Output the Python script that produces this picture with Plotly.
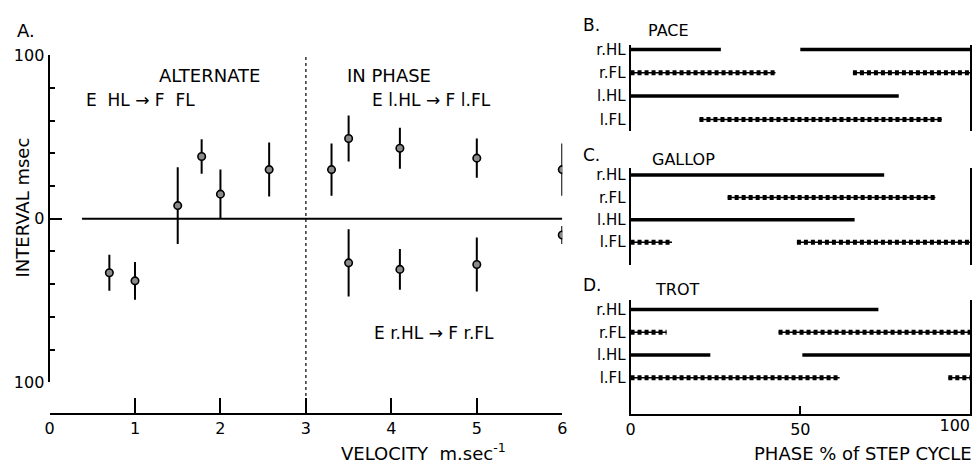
import plotly.graph_objects as go

# ---------------- data: panel A ----------------
vel_alt = [0.70, 1.00, 1.50, 1.78, 2.00, 2.57]
int_alt = [-33, -38, 8, 38, 15, 30]
err_alt = [11, 11.5, 23.5, 10.5, 15, 16.5]

vel_inph = [3.30, 3.50, 4.10, 5.00, 6.00]
int_inph = [30, 49, 43, 37, 30]
err_inph = [16, 14, 12.5, 12, 16]

vel_rev = [3.50, 4.10, 5.00, 6.00]
int_rev = [-27, -31, -28, -10]
err_rev = [20.5, 12.5, 16.5, 5.5]

zero_line_x = [0.38, 6.0]
zero_line_y = [0, 0]
x_ticks = [0, 1, 2, 3, 4, 5, 6]
y_ticks = [-100, 0, 100]
y_ticktext = ["100", "0", "100"]

# ---------------- data: panels B-D (phase % of step cycle) ----------------
limbs = ["r.HL", "r.FL", "l.HL", "l.FL"]
row_pos = [3, 2, 1, 0]

pace_rHL = [(0, 26.6), (50, 100)]
pace_rFL = [(0, 42.7), (65.5, 100)]
pace_lHL = [(0, 79)]
pace_lFL = [(20.3, 91.7)]

gallop_rHL = [(0, 74.7)]
gallop_rFL = [(28.6, 89.8)]
gallop_lHL = [(0, 66)]
gallop_lFL = [(0, 12.2), (49, 100)]

trot_rHL = [(0, 73)]
trot_rFL = [(0, 10.6), (43.6, 100)]
trot_lHL = [(0, 23.5), (50.6, 100)]
trot_lFL = [(0, 61.6), (93.6, 100)]

phase_ticks = [0, 50]
phase_last_tick = [100]

W, H = 980, 471
def PX(x):
    return x / W
def PY(y):
    return 1 - y / H

FONT = "DejaVu Sans"
fig = go.Figure()

# ---------- panel A ----------
fig.add_trace(go.Scatter(x=zero_line_x, y=zero_line_y, mode="lines",
                         line=dict(color="black", width=2), xaxis="x", yaxis="y",
                         showlegend=False, hoverinfo="skip"))

mk = dict(symbol="circle", size=7.5, color="#8a8a8a", line=dict(color="black", width=1.6))
for xs, ys, es in [(vel_alt, int_alt, err_alt), (vel_inph, int_inph, err_inph), (vel_rev, int_rev, err_rev)]:
    fig.add_trace(go.Scatter(x=xs, y=ys, mode="markers", marker=mk,
                             error_y=dict(type="data", array=es, visible=True, thickness=2,
                                          width=0, color="black"),
                             xaxis="x", yaxis="y", showlegend=False))

# ---------- panels B-D ----------
def seg_xy(segs, row):
    xs, ys = [], []
    for a, b in segs:
        xs += [a, b, None]
        ys += [row, row, None]
    return xs, ys

def add_limb(segs, row, kind, ax):
    xs, ys = seg_xy(segs, row)
    if kind == "HL":
        fig.add_trace(go.Scatter(x=xs, y=ys, mode="lines", line=dict(color="black", width=3.5),
                                 xaxis="x" + ax, yaxis="y" + ax, showlegend=False, hoverinfo="skip"))
    else:
        fig.add_trace(go.Scatter(x=xs, y=ys, mode="lines", line=dict(color="black", width=1.5),
                                 xaxis="x" + ax, yaxis="y" + ax, showlegend=False, hoverinfo="skip"))
        fig.add_trace(go.Scatter(x=xs, y=ys, mode="lines",
                                 line=dict(color="black", width=5, dash="4px,3px"),
                                 xaxis="x" + ax, yaxis="y" + ax, showlegend=False, hoverinfo="skip"))

gaits = [
    ("2", [pace_rHL, pace_rFL, pace_lHL, pace_lFL]),
    ("3", [gallop_rHL, gallop_rFL, gallop_lHL, gallop_lFL]),
    ("4", [trot_rHL, trot_rFL, trot_lHL, trot_lFL]),
]
for ax, segsets in gaits:
    for limb, row, segs in zip(limbs, row_pos, segsets):
        add_limb(segs, row, "HL" if limb.endswith("HL") else "FL", ax)

# ---------- layout ----------
tickfont = dict(family=FONT, size=16, color="black")
rowfont = dict(family=FONT, size=15, color="black")

layout = dict(
    width=W, height=H, margin=dict(l=0, r=0, t=0, b=0),
    paper_bgcolor="white", plot_bgcolor="white", showlegend=False,
    font=dict(family=FONT, color="black"),
    xaxis=dict(domain=[PX(45), PX(563)], range=[0, 6], anchor="free", position=PY(422),
               tickvals=x_ticks, ticks="inside", ticklen=15, tickwidth=2, tickcolor="black",
               showline=True, linecolor="black", linewidth=2, showgrid=False, zeroline=False,
               tickfont=tickfont),
    yaxis=dict(domain=[PY(389), PY(48)], range=[-100, 100], anchor="x",
               tickvals=y_ticks, ticktext=y_ticktext, ticks="inside", ticklen=12, tickwidth=2,
               tickcolor="black", minor=dict(dtick=20, ticks="inside", ticklen=5, tickwidth=2,
                                             tickcolor="black", showgrid=False),
               showline=True, linecolor="black", linewidth=2, showgrid=False, zeroline=False,
               tickfont=tickfont),
)

ydom = {"2": (127, 37, [-0.49, 3.21]), "3": (267, 166, [-1.03, 3.3]), "4": (422, 303, [-1.59, 3.43])}
for ax, (yb, yt, rng) in ydom.items():
    xa = dict(domain=[PX(632), PX(975)], range=[0, 100], anchor="y" + ax,
              showgrid=False, zeroline=False, linecolor="black", linewidth=2,
              tickcolor="black", tickfont=tickfont)
    if ax == "4":
        xa.update(showline=True, tickvals=phase_ticks, ticks="inside", ticklen=8, tickwidth=2)
    else:
        xa.update(visible=False)
    layout["xaxis" + ax] = xa
    layout["yaxis" + ax] = dict(domain=[PY(yb), PY(yt)], range=rng, anchor="x" + ax,
                                tickvals=row_pos, ticktext=limbs, ticks="",
                                showline=True, mirror=True, linecolor="black", linewidth=2,
                                showgrid=False, zeroline=False, tickfont=rowfont)

# overlay axis carrying the right-aligned "100" tick label of panel D
layout["xaxis5"] = dict(domain=[PX(632), PX(975)], range=[0, 100], anchor="y4", overlaying="x4",
                        side="bottom", tickvals=phase_last_tick, ticks="", showline=False,
                        showgrid=False, zeroline=False, ticklabelposition="outside left",
                        tickfont=tickfont)

fig.update_layout(**layout)
# invisible trace to activate the overlay axis
fig.add_trace(go.Scatter(x=[None], y=[None], xaxis="x5", yaxis="y4", showlegend=False,
                         hoverinfo="skip"))

# dashed divider at 3 m/s
fig.add_shape(type="line", xref="x", yref="paper", x0=3, x1=3, y0=PY(422), y1=PY(48),
              line=dict(color="black", width=1.2, dash="dot"))

def ann(text, x, y, size=15, xanchor="center", angle=0):
    fig.add_annotation(text=text, x=PX(x), y=PY(y), xref="paper", yref="paper",
                       showarrow=False, xanchor=xanchor, yanchor="middle", textangle=angle,
                       font=dict(family=FONT, size=size, color="black"))

ann("A.", 10, 22, size=18, xanchor="left")
ann("ALTERNATE", 207, 69, size=18)
ann("E  HL \u2192 F  FL", 137, 95, size=17)
ann("IN PHASE", 388, 69, size=18)
ann("E l.HL \u2192 F l.FL", 431, 95, size=17)
ann("E r.HL \u2192 F r.FL", 433, 338, size=17)
ann("INTERVAL msec", 18, 207, size=18, angle=-90)
ann("VELOCITY  m.sec<sup>-1</sup>", 423, 462, size=18)

ann("B.", 582, 17, size=17, xanchor="left")
ann("PACE", 648, 22, size=16, xanchor="left")
ann("C.", 582, 152, size=17, xanchor="left")
ann("GALLOP", 652, 157, size=16, xanchor="left")
ann("D.", 582, 288, size=17, xanchor="left")
ann("TROT", 655, 292, size=16, xanchor="left")
ann("PHASE % of STEP CYCLE", 979, 463, size=18, xanchor="right")

fig.write_html("out.html")
